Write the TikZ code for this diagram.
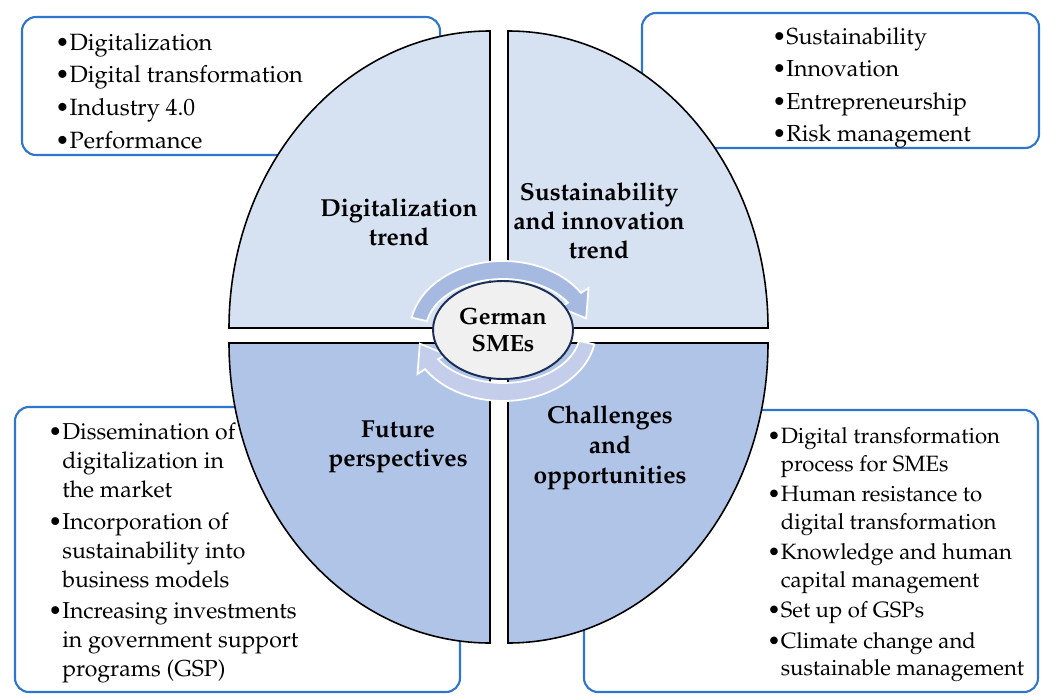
\documentclass[tikz,border=0pt]{standalone}
\usepackage[T1]{fontenc}
\usepackage{mathpazo}
\usetikzlibrary{shapes.geometric,positioning}

\definecolor{boxblue}{RGB}{46,117,204}
\definecolor{topfill}{RGB}{214,225,241}
\definecolor{botfill}{RGB}{176,196,231}
\definecolor{arrtop}{RGB}{166,186,225}
\definecolor{arrbot}{RGB}{196,206,234}
\definecolor{rimnavy}{RGB}{25,45,85}

\newcommand{\bl}{\textbullet}
\newcommand{\hg}{\phantom{\textbullet}}

\begin{document}
\begin{tikzpicture}[x=0.02cm, y=-0.02cm,
  listbox/.style={draw=boxblue, line width=1.2pt, rounded corners=0.28cm, fill=white},
  items/.style={align=left, anchor=west, inner sep=0pt},
  quad/.style={draw=black, line width=0.9pt},
  trend/.style={align=center, inner sep=0pt, font=\bfseries\fontsize{14}{16.6}\selectfont},
  swirl/.style={draw=white, line width=1pt}]
\useasboundingbox (0,0) rectangle (1043,696);

% keyword boxes (behind the ellipse)
\draw[listbox] (22,17) rectangle (440,155);
\draw[listbox] (642,13) rectangle (1039,148);
\draw[listbox] (15,407) rectangle (460,692);
\draw[listbox] (584,410) rectangle (1038,692);

\node[items, font=\fontsize{13.4}{18.6}\selectfont] (dig) at (55,91)
  {\bl Digitalization\\\bl Digital transformation\\\bl Industry 4.0\\\bl Performance};
\node[items, font=\fontsize{13.2}{18.4}\selectfont] (sus) at (772,88)
  {\bl Sustainability\\\bl Innovation\\\bl Entrepreneurship\\\bl Risk management};
\node[items, font=\fontsize{13.1}{16.5}\selectfont] (fut) at (48,553)
  {\bl Dissemination of\\\hg digitalization in\\\hg the market\\[1.4pt]
   \bl Incorporation of\\\hg sustainability into\\\hg business models\\[1.4pt]
   \bl Increasing investments\\\hg in government support\\\hg programs (GSP)};
\node[items, font=\fontsize{12.6}{15.6}\selectfont] (cha) at (767,555)
  {\bl Digital transformation\\\hg process for SMEs\\[1.8pt]
   \bl Human resistance to\\\hg digital transformation\\[1.8pt]
   \bl Knowledge and human\\\hg capital management\\[1.8pt]
   \bl Set up of GSPs\\[1.8pt]
   \bl Climate change and\\\hg sustainable management};

% the split ellipse
\filldraw[quad, fill=topfill] (490,328) -- (229,328)
  arc[start angle=180, end angle=270, x radius=261, y radius=297] -- cycle;
\filldraw[quad, fill=topfill] (508,328) -- (508,31)
  arc[start angle=270, end angle=360, x radius=260, y radius=297] -- cycle;
\filldraw[quad, fill=botfill] (490,343) -- (229,343)
  arc[start angle=180, end angle=90, x radius=261, y radius=300] -- cycle;
\filldraw[quad, fill=botfill] (508,343) -- (768,343)
  arc[start angle=0, end angle=90, x radius=260, y radius=300] -- cycle;

\node[trend] (dt) at (399,222) {Digitalization\\trend};
\node[trend] (st) at (599,221) {Sustainability\\and innovation\\trend};
\node[trend] (fp) at (398,447) {Future\\perspectives};
\node[trend, font=\bfseries\fontsize{14}{17.2}\selectfont] (co) at (610,448)
  {Challenges\\and\\opportunities};

% cycle arrows round the core
\begin{scope}[shift={(503,331)}, yscale=-1]
  \filldraw[swirl, fill=arrtop] (169:93 and 70)
    arc[start angle=169, end angle=33, x radius=93, y radius=70]
    -- (33:102 and 79) -- (12:85 and 61) -- (33:68 and 43) -- (33:77.5 and 52)
    arc[start angle=33, end angle=169, x radius=77.5, y radius=52] -- cycle;
  \filldraw[swirl, fill=arrbot] (349:93 and 70)
    arc[start angle=349, end angle=213, x radius=93, y radius=70]
    -- (213:102 and 79) -- (192:85 and 61) -- (213:68 and 43) -- (213:77.5 and 52)
    arc[start angle=213, end angle=349, x radius=77.5, y radius=52] -- cycle;
\end{scope}

\node[ellipse, draw=rimnavy, line width=1.1pt, fill=gray!12, minimum width=2.8cm,
  minimum height=1.96cm, align=center, inner sep=0pt,
  font=\bfseries\fontsize{13.4}{15.8}\selectfont] (sme) at (503,330) {German\\SMEs};
\end{tikzpicture}
\end{document}
